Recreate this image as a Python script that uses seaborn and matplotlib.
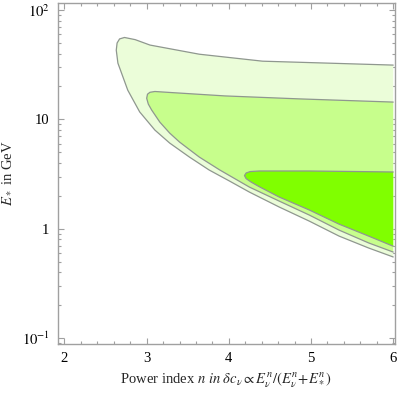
import numpy as np
import matplotlib
matplotlib.use("Agg")
import matplotlib.pyplot as plt
import seaborn as sns
from matplotlib.ticker import FixedLocator, FixedFormatter, LogLocator, MultipleLocator

# contour boundaries: (n, E* in GeV)
# outer region, upper edge from n=6 back to the tip, then lower edge out to n=6
outer_n = [6.0, 5.22, 4.41, 3.64, 3.04, 2.86, 2.73, 2.67, 2.64, 2.63,
           2.65, 2.77, 2.915, 3.10, 3.28, 3.52, 3.76, 4.01, 4.25, 4.61, 4.98, 5.34, 5.70, 6.0]
outer_E = [31.4, 32.7, 34.1, 39.5, 47.9, 53.7, 56.2, 54.5, 50.0, 43.0,
           32.7, 18.5, 11.7, 7.98, 6.07, 4.52, 3.44, 2.72, 2.16, 1.58, 1.17, 0.855, 0.665, 0.55]

middle_n = [6.0, 4.86, 3.95, 3.30, 3.10, 3.04, 3.01, 3.00,
            3.02, 3.06, 3.16, 3.28, 3.40, 3.64, 3.89, 4.25, 4.61, 4.98, 5.34, 5.70, 6.0]
middle_E = [14.4, 15.4, 16.4, 17.6, 18.0, 17.7, 17.0, 15.6,
            13.8, 12.2, 9.44, 7.49, 6.20, 4.52, 3.44, 2.40, 1.79, 1.33, 0.97, 0.74, 0.61]

inner_n = [6.0, 4.98, 4.37, 4.26, 4.21, 4.19,
           4.21, 4.27, 4.37, 4.61, 4.98, 5.34, 5.70, 6.0]
inner_E = [3.30, 3.37, 3.37, 3.33, 3.23, 3.06,
           2.87, 2.67, 2.42, 1.95, 1.48, 1.10, 0.855, 0.69]

regions = [(outer_n, outer_E, "#ebfdd9"),
           (middle_n, middle_E, "#c7fe8c"),
           (inner_n, inner_E, "#80ff00")]

y_ticks = [0.1, 1, 10, 100]
y_labels = ["$10^{-1}$", "1", "10", "$10^{2}$"]
x_ticks = [2, 3, 4, 5, 6]

sns.set_style("ticks")
plt.rcParams["font.family"] = ["Liberation Serif", "DejaVu Serif"]
plt.rcParams["mathtext.fontset"] = "stix"

fig = plt.figure(figsize=(4.05, 3.93), dpi=100)
ax = fig.add_axes([0.143, 0.125, 0.832, 0.867])

for n, E, col in regions:
    ax.fill(n, E, facecolor=col, edgecolor="none")
    ax.plot(n, E, color="#8f978f", lw=0.9, solid_joinstyle="round")

ax.set_yscale("log")
ax.set_xlim(1.92, 6.02)
ax.set_ylim(10 ** -1.055, 10 ** 2.064)

ax.xaxis.set_major_locator(FixedLocator(x_ticks))
ax.xaxis.set_minor_locator(MultipleLocator(0.2))
ax.yaxis.set_major_locator(FixedLocator(y_ticks))
ax.yaxis.set_major_formatter(FixedFormatter(y_labels))
ax.yaxis.set_minor_locator(LogLocator(base=10, subs=np.arange(2, 10)))

for s in ax.spines.values():
    s.set_color("#a0a0a0")
    s.set_linewidth(1.0)
ax.tick_params(which="both", direction="in", top=True, right=True, color="#a0a0a0",
               labelsize=10.5, labelcolor="black", width=0.8)
ax.tick_params(which="major", length=4.5, pad=6)
ax.tick_params(which="minor", length=2.5)

ax.set_xlabel(r"Power index $n\ in\ \delta c_\nu \propto E_\nu^n/(E_\nu^n\!+\!E_*^n)$", fontsize=10.5, labelpad=4)
ax.set_ylabel(r"$E_*$ in GeV", fontsize=10.5, labelpad=6)

fig.savefig("out.png", dpi=100)
